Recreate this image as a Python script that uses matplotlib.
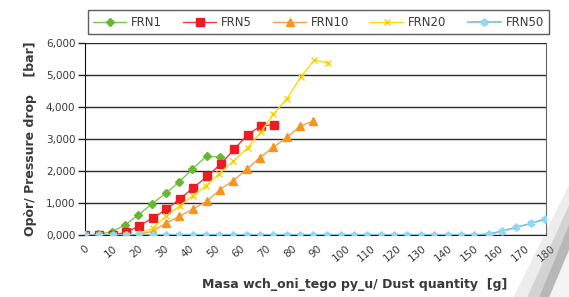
import numpy as np
import matplotlib
matplotlib.use("Agg")
import matplotlib.pyplot as plt
from matplotlib.patches import Polygon
from matplotlib.ticker import FuncFormatter

# mass of dust [g] and pressure drop [bar]
frn1_x = [0, 5.2, 10.4, 15.6, 20.8, 26.0, 31.5, 36.7, 41.9, 47.5, 52.7]
frn1_y = [0.0, 0.02, 0.10, 0.31, 0.625, 0.97, 1.30, 1.65, 2.06, 2.47, 2.43]

frn5_x = [0, 5.5, 10.9, 16.0, 21.2, 26.7, 31.7, 37.1, 42.3, 47.7, 53.0, 58.3, 63.5, 68.7, 73.9]
frn5_y = [0.0, 0.0, 0.0, 0.08, 0.29, 0.54, 0.80, 1.13, 1.48, 1.83, 2.22, 2.68, 3.14, 3.41, 3.45]

frn10_x = [0, 5.5, 10.9, 16.0, 21.1, 26.4, 31.6, 36.8, 42.1, 47.5, 52.7, 57.9, 63.1, 68.3, 73.5, 78.8, 84.0, 89.0]
frn10_y = [0.0, 0.0, 0.0, 0.0, 0.02, 0.12, 0.37, 0.58, 0.81, 1.05, 1.42, 1.70, 2.05, 2.42, 2.74, 3.05, 3.40, 3.56]

frn20_x = [0, 5.5, 10.9, 16.0, 21.1, 26.4, 31.5, 37.1, 42.1, 47.3, 52.4, 57.9, 63.5, 68.7, 73.5, 78.8, 84.2, 89.6, 95.0]
frn20_y = [0.0, 0.0, 0.0, 0.0, 0.03, 0.21, 0.58, 0.92, 1.23, 1.54, 1.92, 2.30, 2.73, 3.22, 3.77, 4.26, 4.93, 5.47, 5.37]

frn50_x = [0, 5.5, 10.9, 16.0, 21.1, 26.6, 31.6, 36.7, 42.2, 47.2, 52.3, 57.8, 63.3, 68.3,
           73.4, 78.9, 84.0, 89.0, 94.5, 100.0, 105.0, 110.1, 115.6, 120.7, 125.8, 131.2,
           136.3, 141.8, 146.8, 151.9, 157.8, 162.8, 168.3, 174.1, 179.6]
frn50_y = [0.0] * 30 + [0.03, 0.12, 0.24, 0.36, 0.50]

x_ticks = list(range(0, 190, 10))
y_ticks = [0, 1, 2, 3, 4, 5, 6]

fig = plt.figure(figsize=(5.69, 2.97), dpi=100)
ax = fig.add_axes([85 / 569, 62 / 297, 461 / 569, 192 / 297])

txt = "#3a3a3a"
for y in y_ticks:
    ax.axhline(y, color="#2b2b2b", lw=1.0, zorder=1)

ax.plot(frn1_x, frn1_y, color="#7cc653", lw=1.0, marker="D", ms=4.5,
        mfc="#64b832", mec="#64b832", label="FRN1", zorder=3)
ax.plot(frn5_x, frn5_y, color="#ec3a3e", lw=1.0, marker="s", ms=5.5,
        mfc="#ed1c24", mec="#ed1c24", label="FRN5", zorder=3)
ax.plot(frn10_x, frn10_y, color="#f7a04a", lw=1.0, marker="^", ms=5.5,
        mfc="#f7941d", mec="#f7941d", label="FRN10", zorder=3)
ax.plot(frn20_x, frn20_y, color="#ffdc00", lw=1.0, marker="x", ms=5,
        mew=1.0, mec="#f5d000", label="FRN20", zorder=3)
ax.plot(frn50_x, frn50_y, color="#74bde0", lw=1.2, marker=(6, 2, 0), ms=5.5,
        mew=1.6, mec="#8fd8f8", label="FRN50", zorder=4)

ax.set_xlim(0, 180)
ax.set_ylim(0, 6)
ax.set_xticks(x_ticks)
ax.set_xticklabels([str(v) for v in x_ticks], rotation=40, ha="center",
                   fontsize=7.5, color=txt)
ax.set_yticks(y_ticks)
ax.yaxis.set_major_formatter(FuncFormatter(lambda v, p: ("%.3f" % v).replace(".", ",")))
ax.tick_params(axis="y", labelsize=7.5, labelcolor=txt, length=5, width=1, color="#222222", pad=2)
ax.tick_params(axis="x", length=0, pad=6)

ax.spines["left"].set_color("#111111")
ax.spines["bottom"].set_color("#222222")
ax.spines["right"].set_color("#666666")
ax.spines["top"].set_visible(False)

ax.set_xlabel("Masa wch_oni_tego py_u/ Dust quantity  [g]", fontsize=9,
              fontweight="bold", color=txt)
ax.set_ylabel("Opòr/ Pressure drop    [bar]", fontsize=9, fontweight="bold",
              color=txt, labelpad=6)
ax.xaxis.set_label_coords(0.585, -0.225)

leg = fig.legend(loc="lower left", bbox_to_anchor=(88 / 569, 1 - 34 / 297, 461 / 569, 27 / 297),
                 mode="expand", ncol=5, fontsize=8.5, frameon=True, fancybox=False,
                 handlelength=2.8, handletextpad=0.4, borderaxespad=0, borderpad=0.45)
leg.get_frame().set_edgecolor("#333333")
leg.get_frame().set_linewidth(1.0)
for t in leg.get_texts():
    t.set_color(txt)

# page curl shading in the bottom right corner
shade = [((569, 185), (569, 300), (512, 300)),
         ((569, 205), (569, 300), (526, 300)),
         ((569, 225), (569, 300), (538, 300))]
for pts, a in zip(shade, [0.15, 0.25, 0.35]):
    fig.patches.append(Polygon([(px / 569, 1 - py / 297) for px, py in pts],
                               closed=True, transform=fig.transFigure,
                               facecolor="#888888", edgecolor="none", alpha=a))
fig.patches.append(Polygon([(px / 569, 1 - py / 297) for px, py in
                            [(569, 250), (569, 300), (548, 300)]],
                           closed=True, transform=fig.transFigure,
                           facecolor="#f4f4f4", edgecolor="none"))

fig.savefig("out.png", dpi=100)
